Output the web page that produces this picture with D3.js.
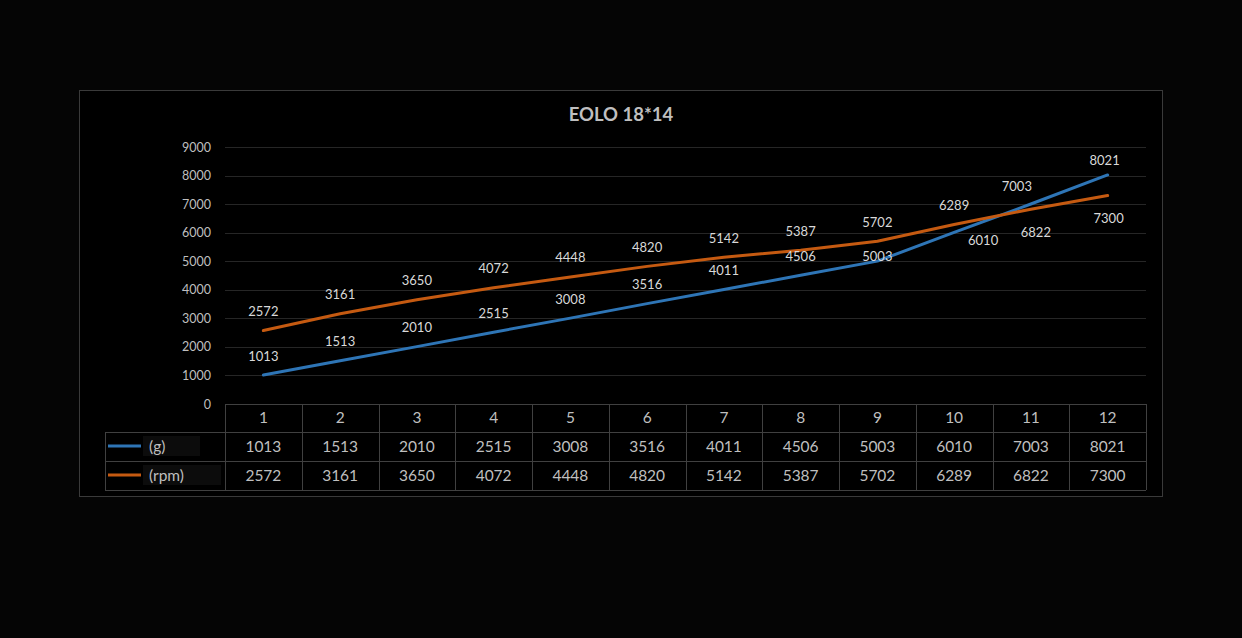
<!DOCTYPE html>
<html><head><meta charset="utf-8">
<script src="https://cdn.jsdelivr.net/npm/d3@7"></script>
<style>
html,body{margin:0;padding:0;background:#050505;}
svg{display:block;}
text{font-family:Lato,"Open Sans",sans-serif;}
</style></head>
<body>
<script>
const title = "EOLO 18*14";
const categories = ["1","2","3","4","5","6","7","8","9","10","11","12"];
const seriesG = [1013,1513,2010,2515,3008,3516,4011,4506,5003,6010,7003,8021];
const seriesRpm = [2572,3161,3650,4072,4448,4820,5142,5387,5702,6289,6822,7300];
const seriesNames = ["(g)","(rpm)"];
const yTicks = [0,1000,2000,3000,4000,5000,6000,7000,8000,9000];

const W=1242,H=638;
const svg=d3.select("body").append("svg").attr("width",W).attr("height",H);
svg.append("rect").attr("width",W).attr("height",H).attr("fill","#050505");
svg.append("rect").attr("x",79.5).attr("y",90.5).attr("width",1083).attr("height",406)
  .attr("fill","#000").attr("stroke","#3a3a3a");

svg.append("text").attr("x",621).attr("y",121).attr("text-anchor","middle")
  .attr("fill","#bfbfbf").attr("font-size",18.5).attr("font-weight","bold").text(title);

const x=d3.scaleBand().domain(categories).range([225,1146]);
const y=d3.scaleLinear().domain([0,9000]).range([404,147]);

// gridlines
svg.append("g").selectAll("line").data(yTicks.filter(d=>d>0)).join("line")
  .attr("x1",225).attr("x2",1146).attr("y1",d=>Math.round(y(d))+0.5).attr("y2",d=>Math.round(y(d))+0.5)
  .attr("stroke","#262626").attr("stroke-width",1);

// y axis
const ya=svg.append("g").attr("transform","translate(211,0)")
  .call(d3.axisLeft(y).tickValues(yTicks).tickFormat(d3.format("d")).tickSize(0).tickPadding(0));
ya.select(".domain").remove();
ya.selectAll("text").attr("fill","#bfbfbf").attr("font-size",12.5).attr("font-family","Lato,sans-serif");

// table
const tcol="#404040";
const tg=svg.append("g");
tg.append("line").attr("x1",225).attr("x2",1146).attr("y1",404.5).attr("y2",404.5).attr("stroke",tcol);
[432,461,490].forEach(v=>tg.append("line").attr("x1",105).attr("x2",1146).attr("y1",v+0.5).attr("y2",v+0.5).attr("stroke",tcol));
const edges=categories.map(c=>x(c)).concat([x.range()[1]]);
edges.forEach(e=>tg.append("line").attr("x1",Math.round(e)+0.5).attr("x2",Math.round(e)+0.5).attr("y1",404).attr("y2",490).attr("stroke",tcol));
tg.append("line").attr("x1",105.5).attr("x2",105.5).attr("y1",432).attr("y2",490).attr("stroke",tcol);

const cx=c=>x(c)+x.bandwidth()/2;
tg.selectAll("text.h").data(categories).join("text").attr("class","h")
  .attr("x",d=>cx(d)).attr("y",423).attr("text-anchor","middle").attr("fill","#bfbfbf").attr("font-size",15.5).text(d=>d);
tg.selectAll("text.g").data(seriesG).join("text").attr("class","g")
  .attr("x",(d,i)=>cx(categories[i])).attr("y",452).attr("text-anchor","middle").attr("fill","#bfbfbf").attr("font-size",15.5).text(d=>d);
tg.selectAll("text.r").data(seriesRpm).join("text").attr("class","r")
  .attr("x",(d,i)=>cx(categories[i])).attr("y",481).attr("text-anchor","middle").attr("fill","#bfbfbf").attr("font-size",15.5).text(d=>d);

const colors=["#2e75b6","#c55a11"];
[446,475].forEach((ly,i)=>{
  tg.append("rect").attr("x",143).attr("y",ly-10).attr("width",i?78:57).attr("height",20).attr("fill","#0c0c0c");
  tg.append("line").attr("x1",108).attr("x2",141).attr("y1",ly).attr("y2",ly).attr("stroke",colors[i]).attr("stroke-width",3);
  tg.append("text").attr("x",149).attr("y",ly+6).attr("fill","#bfbfbf").attr("font-size",15.5).text(seriesNames[i]);
});

// lines
const line=d3.line().x((d,i)=>cx(categories[i])).y(d=>y(d));
[seriesG,seriesRpm].forEach((s,i)=>{
  svg.append("path").attr("d",line(s)).attr("fill","none").attr("stroke",colors[i])
    .attr("stroke-width",3).attr("stroke-linejoin","round").attr("stroke-linecap","round");
});

// data labels (manual offsets as in the original)
const gOff=[[0,-19],[0,-19],[0,-19],[0,-19],[0,-19],[0,-19],[0,-19],[0,-19],[0,-5],[29,8],[-14,-18],[-3,-14]];
const rOff=[[0,-19],[0,-19],[0,-19],[0,-19],[0,-19],[0,-19],[0,-19],[0,-19],[0,-19],[0,-19],[5,23],[1,23]];
function labels(s,off){
  svg.append("g").selectAll("text").data(s).join("text")
    .attr("x",(d,i)=>cx(categories[i])+off[i][0]).attr("y",(d,i)=>y(d)+off[i][1]+4.5)
    .attr("text-anchor","middle").attr("fill","#d9d9d9").attr("font-size",13).text(d=>d);
}
labels(seriesG,gOff);
labels(seriesRpm,rOff);
</script>
</body></html>
